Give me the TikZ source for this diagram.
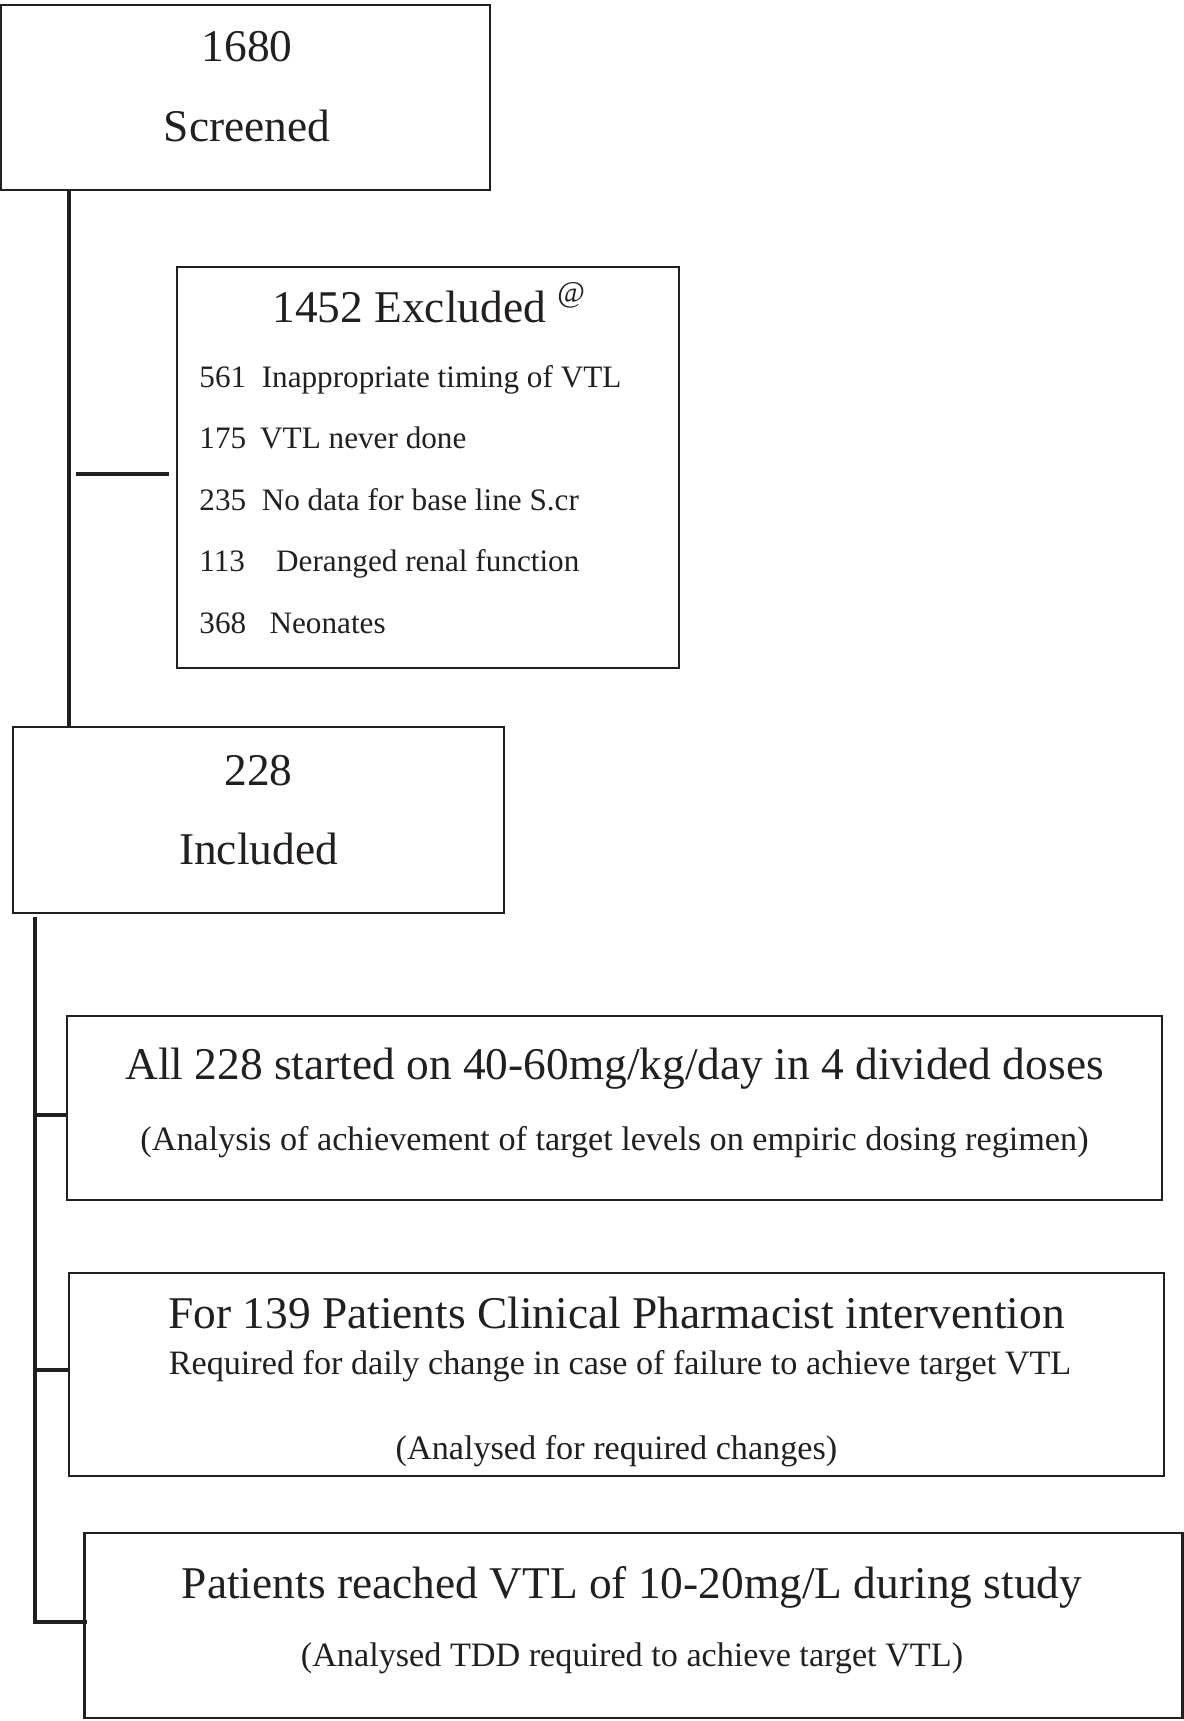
\documentclass[tikz,border=0pt]{standalone}
\usepackage{fontspec}
\setmainfont{Liberation Serif}
\definecolor{ink}{RGB}{35,31,32}

\tikzset{
  box/.style={draw=ink, line width=1.3pt, rectangle, inner sep=0pt},
  link/.style={draw=ink, line width=2pt},
  head/.style={text=ink, anchor=base, inner sep=0pt, font=\fontsize{22.7}{27}\selectfont},
  sub/.style={text=ink, anchor=base, inner sep=0pt, font=\fontsize{17.1}{20}\selectfont},
  item/.style={text=ink, anchor=base west, inner sep=0pt, font=\fontsize{15.6}{19}\selectfont},
}

\begin{document}
\begin{tikzpicture}[x=0.5pt,y=-0.5pt]
    \useasboundingbox (0,0) rectangle (1184,1721);

    % boxes
    \node[box, minimum width=244.5pt, minimum height=92.5pt] (scr) at (245.5,97.5) {};
    \node[box, minimum width=251pt, minimum height=200.5pt] (excl) at (428,467.5) {};
    \node[box, minimum width=245.5pt, minimum height=93pt] (incl) at (258.5,820) {};
    \node[box, minimum width=547.5pt, minimum height=92pt] (boxA) at (614.5,1108) {};
    \node[box, minimum width=547.5pt, minimum height=101.5pt] (boxB) at (616.5,1374.5) {};
    \node[box, minimum width=549pt, minimum height=92.5pt] (boxC) at (633.5,1625.5) {};

    % texts
    \node[head] (n1680) at (247,61) {1680};
    \node[head] (nscr) at (247,141) {Screened};
    \node[head, anchor=base west] (nexcl) at (272,322)
        {1452 Excluded \raisebox{.42em}{\fontsize{15}{17}\selectfont @}};
    \foreach \y/\txt [count=\i] in {
        387/{561\hspace{.5em}Inappropriate timing of VTL},
        448.5/{175\hspace{.45em}VTL never done},
        510/{235\hspace{.5em}No data for base line S.cr},
        571.5/{113\hspace{1em}Deranged renal function},
        633/{368\hspace{.75em}Neonates}}
        \node[item] (ex\i) at (199,\y) {\txt};
    \node[head] (n228) at (258.5,785) {228};
    \node[head] (ninc) at (258.5,864) {Included};

    \node[head] (amain) at (614.5,1079) {All 228 started on 40-60mg/kg/day in 4 divided doses};
    \node[sub] (asub) at (614.5,1150) {(Analysis of achievement of target levels on empiric dosing regimen)};
    \node[head] (bmain) at (616.5,1328) {For 139 Patients Clinical Pharmacist intervention};
    \node[sub] (bsub) at (620,1374) {Required for daily change in case of failure to achieve target VTL};
    \node[sub] (bsub2) at (616.5,1459) {(Analysed for required changes)};
    \node[head] (cmain) at (632,1598) {Patients reached VTL of 10-20mg/L during study};
    \node[sub] (csub) at (632,1666) {(Analysed TDD required to achieve target VTL)};

    % connectors
    \coordinate (sp1) at (69,0);
    \coordinate (sp2) at (35,0);
    \coordinate (br1) at (69,474);
    \path[link] (scr.south -| sp1) -- (incl.north -| sp1);
    \path[link, shorten <=3.5pt, shorten >=3.5pt] (br1) -- (br1 -| excl.west);
    \path[link] ([yshift=-1.5pt]incl.south -| sp2) -- ([yshift=1.6pt]boxC.west -| sp2) -- ([xshift=2pt,yshift=1.6pt]boxC.west);
    \path[link] ([yshift=-3.3pt]boxA.west -| sp2) -- ([yshift=-3.3pt]boxA.west);
    \path[link] ([yshift=2.2pt]boxB.west -| sp2) -- ([yshift=2.2pt]boxB.west);
\end{tikzpicture}
\end{document}
